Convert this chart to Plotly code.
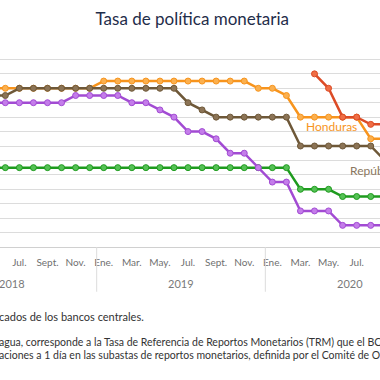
import plotly.graph_objects as go

# Month categories (Jan 2018 - Dec 2020)
years = ["2018", "2019", "2020"]
month_abbr = ["Ene.", "Feb.", "Mar.", "Abr.", "May.", "Jun.", "Jul.", "Ago.", "Sept.", "Oct.", "Nov.", "Dic."]
all_months = [f"{y}-{m:02d}" for y in years for m in range(1, 13)]

# Data months: May 2018 - Sep 2020
data_months = all_months[4:33]

honduras = [5.5] * 8 + [5.75] * 11 + [5.5, 5.5, 5.25] + [4.5] * 5 + [3.75, 3.75]
rep_dominicana = [5.25, 5.25] + [5.5] * 12 + [5.0, 4.75] + [4.5] * 6 + [3.5] * 6 + [3.0]
costa_rica = ([5.0] * 6 + [5.25] * 4 + [5.0, 5.0, 4.75, 4.5, 4.0, 4.0, 3.75, 3.25, 3.25,
              2.75, 2.25, 2.25] + [1.25] * 3 + [0.75] * 4)
guatemala = [2.75] * 22 + [2.0] * 3 + [1.75] * 4
nicaragua = [None] * 23 + [6.0, 5.5, 4.5, 4.5, 4.25, 4.25]

series = [
    ("Guatemala", guatemala, "#1E9B1E", "#55C155"),
    ("Honduras", honduras, "#F7941D", "#FBB04F"),
    ("República Dominicana", rep_dominicana, "#6E5838", "#8C7456"),
    ("Costa Rica", costa_rica, "#A24BD3", "#C47DEA"),
    ("Nicaragua", nicaragua, "#DC4B26", "#EF6E45"),
]

tick_vals = all_months[::2]
tick_text = [month_abbr[int(m[5:]) - 1] for m in tick_vals]

fig = go.Figure()
for name, vals, lc, mc in series:
    fig.add_trace(go.Scatter(
        x=data_months, y=vals, mode="lines+markers", name=name,
        line=dict(color=lc, width=2.5),
        marker=dict(size=6, color=mc, line=dict(color=lc, width=1)),
        connectgaps=False, showlegend=False,
    ))

H_PLOT = 380 - 45 - 132.8

def py(px):
    return (247.2 - px) / H_PLOT

fig.update_layout(
    width=380, height=380,
    margin=dict(l=0, r=0, t=45, b=132.8, pad=0),
    paper_bgcolor="white", plot_bgcolor="white",
    font=dict(family="Lato, sans-serif"),
    title=dict(text="Tasa de política monetaria", x=0.506, xanchor="center",
               y=1 - 19 / 380, yanchor="middle", automargin=False,
               font=dict(size=17, color="#1F2D4A", family="Lato")),
    xaxis=dict(type="category", categoryorder="array", categoryarray=all_months,
               range=[4.62, 31.66], showgrid=False, zeroline=False, automargin=False,
               showline=True, linecolor="#d0d0d0", linewidth=1,
               tickmode="array", tickvals=tick_vals, ticktext=tick_text,
               ticks="", ticklabelstandoff=6,
               tickfont=dict(size=10, color="#707070")),
    yaxis=dict(range=[0, 7.0], dtick=0.5, tick0=0, showgrid=True, automargin=False,
               gridcolor="#dcdcdc", gridwidth=1, zeroline=False,
               showticklabels=False, showline=False),
)

# Year separators and labels
for i, y in enumerate(years):
    if i > 0:
        fig.add_shape(type="line", xref="x", yref="paper",
                      x0=12 * i - 0.5, x1=12 * i - 0.5, y0=0, y1=py(292),
                      line=dict(color="#dcdcdc", width=1))
    fig.add_annotation(text=y, xref="x", yref="paper", x=12 * i + 5.5, y=py(284),
                       showarrow=False, xanchor="center", yanchor="middle",
                       font=dict(size=11, color="#7a7a7a"))

# Series labels
fig.add_annotation(text="Honduras", xref="x", yref="y", x=28.18, y=4.17,
                   showarrow=False, xanchor="center", yanchor="middle",
                   font=dict(size=12, color="#F7941D"))
fig.add_annotation(text="República Dominicana", xref="x", yref="y", x=29.39, y=2.65,
                   showarrow=False, xanchor="left", yanchor="middle",
                   font=dict(size=12, color="#8B7760"))

# Footnotes
notes = [
    ("cados de los bancos centrales.", 316.7, 11),
    ("agua, corresponde a la Tasa de Referencia de Reportos Monetarios (TRM) que el BCN", 342.3, 10.5),
    ("aciones a 1 día en las subastas de reportos monetarios, definida por el Comité de Op", 355, 10.5),
]
for txt, ypx, fs in notes:
    fig.add_annotation(text=txt, xref="paper", yref="paper", x=0, y=py(ypx),
                       showarrow=False, xanchor="left", yanchor="middle", xshift=-3,
                       font=dict(size=fs, color="#333333"))

fig.write_html("out.html", config={"displayModeBar": False},
               post_script="document.body.style.margin='0';document.body.style.overflow='hidden';")
